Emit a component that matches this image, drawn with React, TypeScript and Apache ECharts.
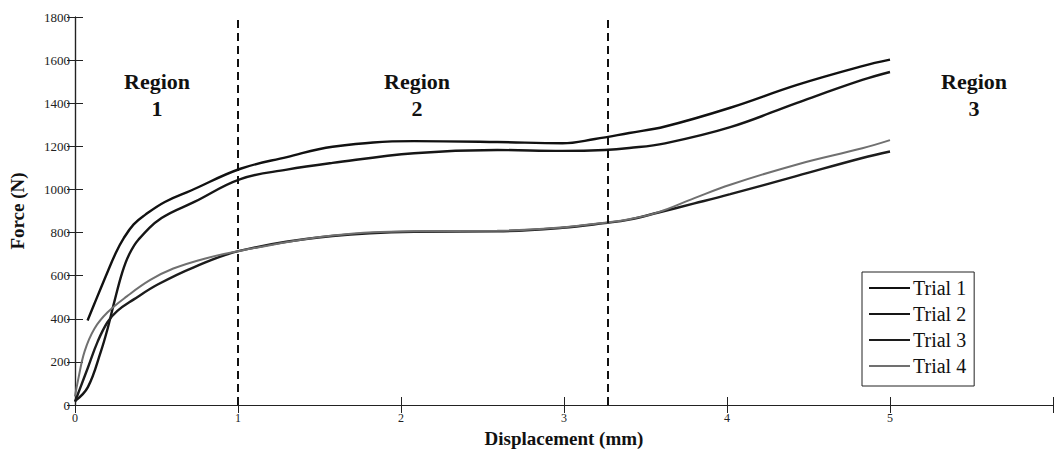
import React, { useEffect, useRef } from "react";
import * as echarts from "echarts";

const trialNames = ["Trial 1", "Trial 2", "Trial 3", "Trial 4"];
const trialColors = ["#111111", "#161616", "#1c1c1c", "#707070"];

const trial1: [number, number][] = [
  [0.077, 392], [0.13, 490], [0.188, 596], [0.25, 705], [0.3, 775], [0.36, 838], [0.43, 882],
  [0.551, 942], [0.712, 995], [1.015, 1096], [1.3, 1150], [1.58, 1198], [2.08, 1224],
  [2.59, 1220], [2.99, 1214], [3.19, 1234], [3.4, 1262], [3.62, 1292], [4.02, 1379],
  [4.43, 1485], [4.83, 1572], [5.0, 1602],
];
const trial2: [number, number][] = [
  [0, 18], [0.079, 83], [0.159, 249], [0.2, 354], [0.24, 475], [0.29, 615],
  [0.33, 695], [0.39, 768], [0.531, 867], [0.732, 942], [1.015, 1048], [1.3, 1092],
  [1.58, 1123], [2.08, 1168], [2.59, 1183], [2.99, 1179], [3.25, 1183], [3.4, 1192],
  [3.62, 1214], [4.02, 1289], [4.43, 1402], [4.83, 1508], [5.0, 1545],
];
const trial3: [number, number][] = [
  [0, 15], [0.03, 75], [0.079, 173], [0.139, 294], [0.2, 385], [0.26, 437],
  [0.361, 490], [0.51, 560], [0.732, 640], [1.015, 716], [1.58, 784], [2.08, 804],
  [2.59, 806], [2.99, 822], [3.25, 844], [3.4, 860], [3.58, 893], [3.8, 935],
  [4.02, 978], [4.43, 1063], [4.83, 1146], [5.0, 1176],
];
const trial4: [number, number][] = [
  [0, 40], [0.02, 120], [0.059, 249], [0.119, 354], [0.2, 430], [0.32, 505],
  [0.462, 580], [0.603, 633], [0.8, 680], [1.015, 716], [1.58, 786], [2.08, 806],
  [2.59, 808], [2.99, 824], [3.25, 846], [3.4, 862], [3.58, 895], [3.8, 960],
  [4.02, 1022], [4.43, 1116], [4.83, 1191], [5.0, 1229],
];
const trials = [trial1, trial2, trial3, trial4];
const regionBoundaries = [1, 3.265];
const regionLabels = ["Region\n1", "Region\n2", "Region\n3"];

export default function App() {
  const ref = useRef<HTMLDivElement>(null);
  useEffect(() => {
    if (!ref.current) return;
    const chart = echarts.init(ref.current, null, { renderer: "svg" });
    const serif = '"Liberation Serif", "Times New Roman", serif';
    const axisLine = { show: true, lineStyle: { color: "#222", width: 1.2 } };
    const tick = { show: true, inside: true, length: 8, lineStyle: { color: "#222", width: 1 } };
    const series: any[] = trials.map((d, i) => ({
      name: trialNames[i],
      type: "line",
      data: d,
      smooth: 0.4,
      symbol: "none",
      lineStyle: { color: trialColors[i], width: i === 3 ? 2 : 2.4 },
      itemStyle: { color: trialColors[i] },
      z: i === 3 ? 3 : 2,
    }));
    series[0].markLine = {
      silent: true,
      symbol: "none",
      label: { show: false },
      lineStyle: { type: [8, 5], color: "#111", width: 2 },
      data: regionBoundaries.map((x) => ({ xAxis: x })),
    };
    const regionPos = [157, 417, 974];
    chart.setOption({
      animation: false,
      backgroundColor: "#fff",
      grid: { left: 69, top: 17, right: -4, bottom: 39 },
      xAxis: [
        {
          type: "value", min: 0, max: 6, interval: 1,
          axisLine, axisTick: tick, splitLine: { show: false },
          axisLabel: { fontFamily: serif, fontSize: 12, color: "#222", margin: 7,
            formatter: (v: number) => (v <= 5 ? String(v) : "") },
          name: "Displacement (mm)", nameLocation: "middle", nameGap: 24,
          nameTextStyle: { fontFamily: serif, fontWeight: "bold", fontSize: 19, color: "#111" },
        },
        {
          type: "value", min: 0, max: 6, interval: 1, position: "top",
          axisLine, axisTick: tick, axisLabel: { show: false }, splitLine: { show: false },
        },
      ],
      yAxis: [
        {
          type: "value", min: 0, max: 1800, interval: 200,
          axisLine, axisTick: tick, splitLine: { show: false },
          axisLabel: { fontFamily: serif, fontSize: 13, color: "#222", margin: 5,
            formatter: (v: number) => String(v) },
          name: "Force (N)", nameLocation: "middle", nameGap: 48,
          nameTextStyle: { fontFamily: serif, fontWeight: "bold", fontSize: 19, color: "#111" },
        },
        {
          type: "value", min: 0, max: 1800, interval: 200, position: "right",
          axisLine, axisTick: tick, axisLabel: { show: false }, splitLine: { show: false },
        },
      ],
      legend: {
        data: trialNames,
        orient: "vertical",
        left: 862,
        top: 272,
        itemWidth: 41,
        itemHeight: 20,
        itemGap: 6,
        padding: [6, 8, 10, 6],
        borderColor: "#222",
        borderWidth: 1,
        backgroundColor: "#fff",
        itemStyle: { opacity: 0 },
        textStyle: { fontFamily: serif, fontSize: 20, color: "#111", padding: [0, 0, 0, -2] },
      },
      graphic: regionLabels.map((t, i) => ({
        type: "text",
        x: regionPos[i],
        y: 68,
        style: {
          text: t,
          align: "center",
          verticalAlign: "top",
          fontFamily: serif,
          fontWeight: "bold",
          fontSize: 22,
          lineHeight: 27,
          fill: "#111",
        },
      })),
      series,
    });
    return () => chart.dispose();
  }, []);
  return (
    <div
      ref={ref}
      style={{ position: "absolute", left: 0, top: 0, width: 1056, height: 453, background: "#fff" }}
    />
  );
}
